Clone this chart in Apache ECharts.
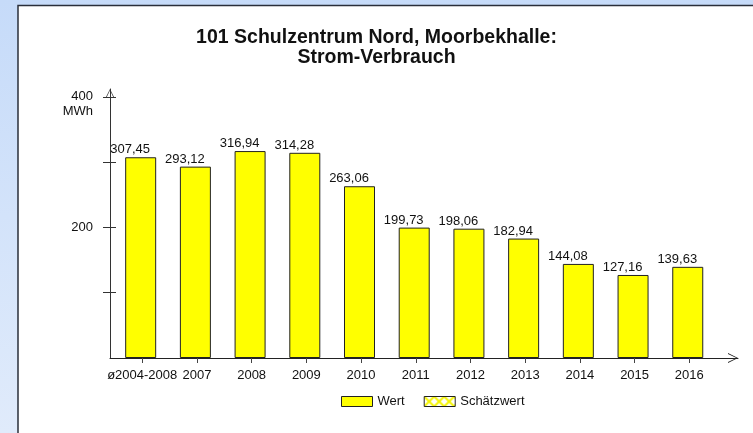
<!DOCTYPE html>
<html>
<head>
<meta charset="utf-8">
<script src="https://cdn.jsdelivr.net/npm/echarts@6/dist/echarts.min.js"></script>
<style>
  html, body { margin: 0; padding: 0; }
  #main { width: 753px; height: 433px; }
</style>
</head>
<body>
<div id="main"></div>
<script>
// Daten
var categories = ['ø2004-2008', '2007', '2008', '2009', '2010', '2011', '2012', '2013', '2014', '2015', '2016'];
var wert = [307.45, 293.12, 316.94, 314.28, 263.06, 199.73, 198.06, 182.94, 144.08, 127.16, 139.63];
var schaetzwert = [];
var yTicks = [100, 200, 300, 400];
var yLabels = [200, 400];

var FONT = 'Liberation Sans, Arial, sans-serif';

// Schraffur fuer Schaetzwert (gelbe Kreuze)
function makePattern() {
  var c = document.createElement('canvas');
  c.width = 10; c.height = 10;
  var ctx = c.getContext('2d');
  ctx.fillStyle = '#ffffff';
  ctx.fillRect(0, 0, 10, 10);
  ctx.strokeStyle = '#f5f500';
  ctx.lineWidth = 2;
  ctx.beginPath();
  ctx.moveTo(0, 0); ctx.lineTo(10, 10);
  ctx.moveTo(10, 0); ctx.lineTo(0, 10);
  ctx.stroke();
  return c;
}

// offener Pfeil
var chevron = 'path://M5,0 L10,10 L9,10 L5,1.6 L1,10 L0,10 Z';

var chart = echarts.init(document.getElementById('main'));

var xData = wert.map(function (v, i) { return [i, v]; });
var xIdx = categories.map(function (c, i) { return i; });

var option = {
  animation: false,
  graphic: [
    {
      type: 'rect', z: -10, silent: true,
      shape: { x: 0, y: 0, width: 753, height: 433 },
      style: {
        fill: new echarts.graphic.LinearGradient(0, 0, 0, 1, [
          { offset: 0, color: '#c6dbf9' },
          { offset: 1, color: '#e0ebfb' }
        ])
      }
    },
    {
      type: 'rect', z: -9, silent: true,
      shape: { x: 18, y: 5.5, width: 740, height: 440 },
      style: { fill: '#ffffff', stroke: '#2a2f3a', lineWidth: 1.5 }
    }
  ],
  title: {
    text: '101 Schulzentrum Nord, Moorbekhalle:\nStrom-Verbrauch',
    left: 'center',
    top: 23,
    textStyle: {
      fontFamily: FONT,
      fontSize: 19.5,
      fontWeight: 'bold',
      color: '#111',
      lineHeight: 20
    }
  },
  legend: {
    top: 390,
    left: 336,
    itemWidth: 31,
    itemHeight: 10,
    itemGap: 19,
    itemStyle: { borderWidth: 1, borderColor: '#222' },
    textStyle: { fontFamily: FONT, fontSize: 13, color: '#111' },
    data: [
      { name: 'Wert', icon: 'rect' },
      { name: 'Schätzwert', icon: 'rect' }
    ]
  },
  grid: { left: 110, right: 15, top: 89, bottom: 75 },
  xAxis: {
    type: 'value',
    min: -0.589,
    max: 10.89,
    splitLine: { show: false },
    axisLine: {
      onZero: false,
      lineStyle: { color: '#222', width: 1 },
      symbol: ['none', chevron],
      symbolSize: [10, 11],
      symbolOffset: [0, -5]
    },
    axisTick: {
      customValues: xIdx,
      length: 5,
      lineStyle: { color: '#444' }
    },
    axisLabel: {
      customValues: xIdx,
      margin: 11,
      fontFamily: FONT,
      fontSize: 13,
      color: '#111',
      formatter: function (v) { return categories[Math.round(v)]; }
    }
  },
  yAxis: [
    {
      type: 'value',
      min: 0,
      max: 412,
      position: 'left',
      splitLine: { show: false },
      axisLine: {
        show: true,
        onZero: false,
        lineStyle: { color: '#333', width: 1 },
        symbol: ['none', chevron],
        symbolSize: [14, 8],
        symbolOffset: [0, -4]
      },
      axisTick: {
        show: true,
        customValues: yTicks,
        length: 7,
        lineStyle: { color: '#333' }
      },
      axisLabel: {
        customValues: yLabels,
        margin: 17,
        fontFamily: FONT,
        fontSize: 13,
        color: '#111',
        lineHeight: 15,
        formatter: function (v) {
          return v === 400 ? ' \n400\nMWh' : String(v);
        }
      }
    },
    {
      type: 'value',
      min: 0,
      max: 412,
      position: 'left',
      splitLine: { show: false },
      axisLine: { show: false, onZero: false },
      axisTick: {
        show: true,
        inside: true,
        customValues: yTicks,
        length: 6,
        lineStyle: { color: '#333' }
      },
      axisLabel: { show: false }
    }
  ],
  series: [
    {
      name: 'Wert',
      type: 'bar',
      barWidth: 31,
      data: xData,
      itemStyle: { color: '#ffff00', borderColor: '#222', borderWidth: 1 },
      label: {
        show: true,
        position: 'top',
        distance: 1,
        offset: [-10.5, 0],
        fontFamily: FONT,
        fontSize: 13,
        color: '#111',
        formatter: function (p) { return p.value[1].toFixed(2).replace('.', ','); }
      }
    },
    {
      name: 'Schätzwert',
      type: 'bar',
      data: schaetzwert,
      itemStyle: {
        color: { image: makePattern(), repeat: 'repeat' },
        borderColor: '#222',
        borderWidth: 1
      }
    }
  ]
};

chart.setOption(option);
</script>
</body>
</html>
